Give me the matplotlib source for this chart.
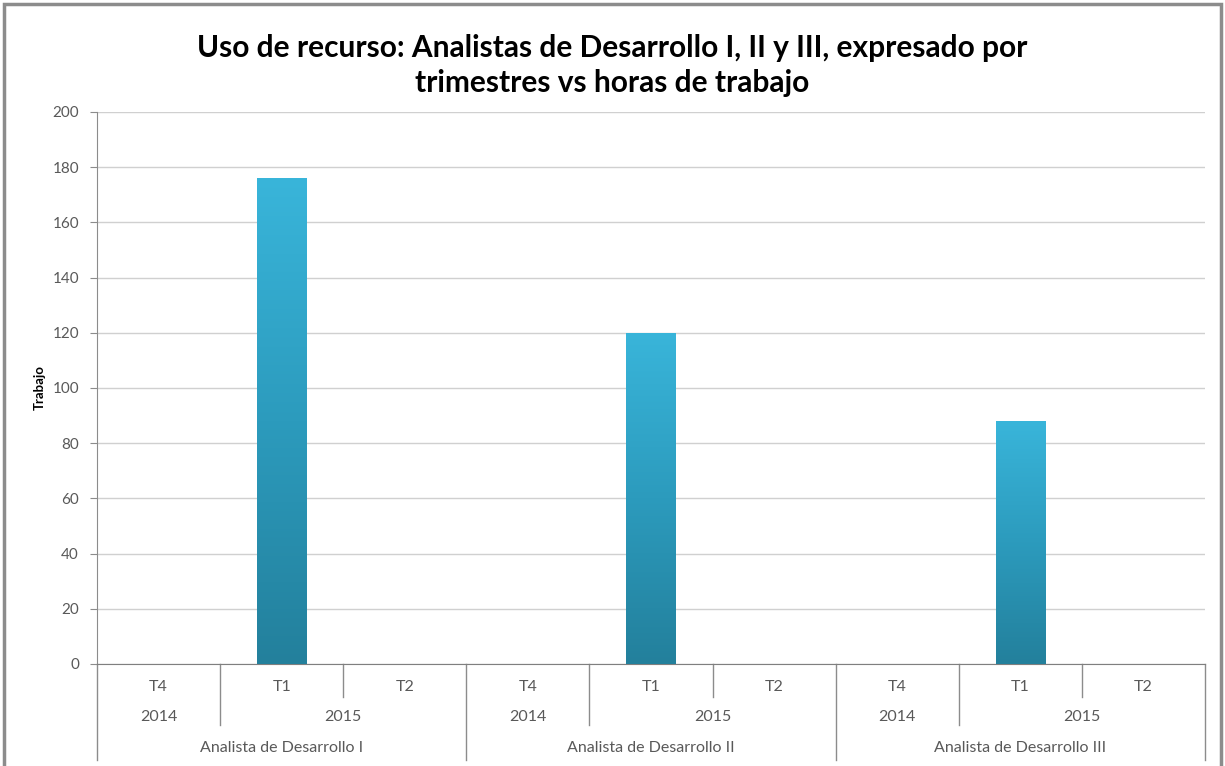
import numpy as np
import matplotlib.pyplot as plt
from matplotlib.colors import LinearSegmentedColormap
from matplotlib.patches import Rectangle

plt.rcParams['font.family'] = ['Lato', 'DejaVu Sans']

# data
analysts = ['Analista de Desarrollo I', 'Analista de Desarrollo II', 'Analista de Desarrollo III']
quarters = ['T4', 'T1', 'T2']
quarter_years = ['2014', '2015', '2015']
hours = [[0, 176, 0],
         [0, 120, 0],
         [0, 88, 0]]

title = 'Uso de recurso: Analistas de Desarrollo I, II y III, expresado por\ntrimestres vs horas de trabajo'
ylabel = 'Trabajo'

values = np.array(hours).flatten()
n = len(values)
x = np.arange(n)

fig = plt.figure(figsize=(12.25, 7.66), dpi=100)
ax = fig.add_axes([0.0792, 0.1332, 0.9045, 0.7206])

# outer frame of the picture
fig.patches.append(Rectangle((0.003, -0.01), 0.994, 1.005, transform=fig.transFigure,
                             fill=False, edgecolor='#8c8c8c', linewidth=2.5))

bars = ax.bar(x, values, width=0.4, color='#2f9fc2', zorder=3)

# vertical gradient on each bar, light on top, dark at bottom
cmap = LinearSegmentedColormap.from_list('grad', ['#23809c', '#2c9bbd', '#39b5da'])
grad = np.linspace(0, 1, 256).reshape(-1, 1)
for b in bars:
    if b.get_height() <= 0:
        continue
    im = ax.imshow(grad, cmap=cmap, origin='lower', aspect='auto', zorder=4,
                   extent=[b.get_x(), b.get_x() + b.get_width(), 0, b.get_height()])
    im.set_clip_path(b)

ax.set_xlim(-0.5, n - 0.5)
ax.set_ylim(0, 200)
ax.set_yticks(np.arange(0, 201, 20))
ax.yaxis.grid(True, color='#d0d0d0', linewidth=1)
ax.set_axisbelow(True)
ax.tick_params(axis='y', colors='#8c8c8c', labelcolor='#595959', labelsize=11, length=5, pad=8)
ax.set_xticks([])

for s in ['top', 'right']:
    ax.spines[s].set_visible(False)
ax.spines['left'].set_color('#8c8c8c')
ax.spines['bottom'].set_color('#7f7f7f')

fig.text(40 / 1225, 1 - 388 / 766, ylabel, rotation=90, ha='center', va='center',
         fontsize=9.5, fontweight='bold')
fig.suptitle(title, fontsize=21.5, fontweight='bold', y=0.955, linespacing=1.3)

# multi level category axis
trans = ax.get_xaxis_transform()
lc = '#8c8c8c'
tc = '#595959'
fs = 11.5
for i in range(n):
    ax.text(x[i], -0.042, quarters[i % 3], transform=trans, ha='center', va='center',
            fontsize=fs, color=tc)
for a, name in enumerate(analysts):
    base = a * 3
    ax.text(base, -0.096, quarter_years[0], transform=trans, ha='center', va='center',
            fontsize=fs, color=tc)
    ax.text(base + 1.5, -0.096, quarter_years[1], transform=trans, ha='center', va='center',
            fontsize=fs, color=tc)
    ax.text(base + 1, -0.152, name, transform=trans, ha='center', va='center',
            fontsize=fs, color=tc)
    # separators
    ax.plot([base + 0.5, base + 0.5], [0, -0.11], transform=trans, color=lc, lw=1, clip_on=False)
    ax.plot([base + 1.5, base + 1.5], [0, -0.06], transform=trans, color=lc, lw=1, clip_on=False)
for k in range(len(analysts) + 1):
    ax.plot([k * 3 - 0.5] * 2, [0, -0.174], transform=trans, color=lc, lw=1, clip_on=False)

fig.savefig('out.png', dpi=100)
